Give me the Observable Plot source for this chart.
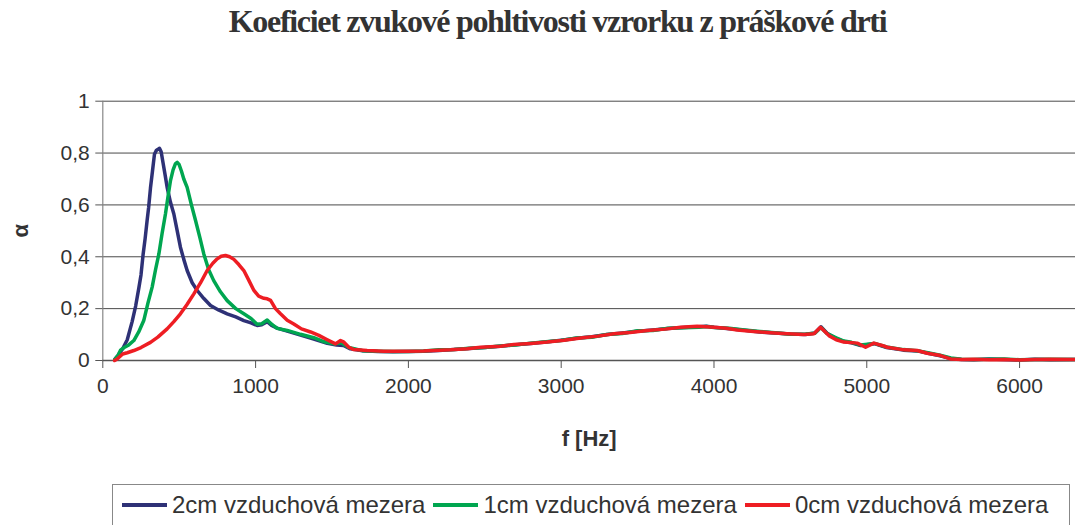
<!DOCTYPE html>
<html><head><meta charset="utf-8">
<script src="https://cdn.jsdelivr.net/npm/d3@7"></script>
<script src="https://cdn.jsdelivr.net/npm/@observablehq/plot@0.6"></script>
<style>
body{margin:0;background:#fff;width:1075px;height:525px;overflow:hidden;position:relative;font-family:"Liberation Sans",Arial,sans-serif;color:#333;}
#title{position:absolute;left:0;top:3px;width:1115px;text-align:center;font-family:"Liberation Serif","Times New Roman",serif;font-weight:bold;font-size:32px;letter-spacing:-1.3px;color:#333;white-space:nowrap;}
#chart{position:absolute;left:0;top:0;}
#legend{position:absolute;left:112px;top:484px;width:958px;height:60px;border:1px solid #888;box-sizing:border-box;display:flex;align-items:flex-start;padding-top:6px;padding-left:9px;font-size:24px;color:#333;white-space:nowrap;}
.item{display:flex;align-items:center;margin-right:8px;}
.sw{display:inline-block;width:45px;height:4px;margin-right:5px;}
g[aria-label="x-axis label"] text, g[aria-label="y-axis label"] text{font-weight:bold;font-size:22px;}
</style></head>
<body>
<div id="title">Koeficiet zvukové pohltivosti vzrorku z práškové drti</div>
<div id="chart"></div>
<div id="legend"></div>
<script>
const seriesNames = ["2cm vzduchová mezera", "1cm vzduchová mezera", "0cm vzduchová mezera"];
const seriesColors = ["#2e3176", "#00a650", "#ee1d23"];
const xTicks = [0, 1000, 2000, 3000, 4000, 5000, 6000];
const yTicks = [0, 0.2, 0.4, 0.6, 0.8, 1];

const freq2 = [80,100,130,160,192,215,236,250,264,277,290,300,312,325,338,350,362,371,382,395,408,421,443,465,487,508,530,552,585,618,660,705,757,814,870,923,970,1010,1040,1076,1105,1141,1207,1294,1381,1469,1530,1575,1620,1700,1800,1900,2000,2100,2200,2300,2400,2500,2600,2700,2800,2900,3000,3100,3200,3300,3400,3500,3600,3700,3800,3900,3950,4000,4100,4200,4300,4400,4500,4600,4660,4700,4740,4800,4850,4900,4960,5050,5130,5240,5330,5400,5480,5550,5620,5700,5800,5900,6000,6100,6200,6366];
const alpha2 = [0.005,0.02,0.045,0.08,0.15,0.21,0.28,0.33,0.41,0.47,0.54,0.59,0.665,0.73,0.795,0.81,0.815,0.818,0.805,0.76,0.715,0.668,0.61,0.565,0.5,0.437,0.39,0.347,0.30,0.27,0.24,0.212,0.195,0.18,0.168,0.154,0.145,0.135,0.138,0.15,0.135,0.125,0.113,0.098,0.083,0.066,0.06,0.058,0.045,0.038,0.035,0.034,0.035,0.036,0.039,0.042,0.046,0.05,0.055,0.061,0.066,0.071,0.078,0.086,0.092,0.1,0.106,0.113,0.118,0.123,0.127,0.13,0.132,0.128,0.122,0.117,0.11,0.106,0.102,0.1,0.106,0.13,0.105,0.085,0.073,0.068,0.058,0.065,0.05,0.04,0.037,0.028,0.018,0.008,0.004,0.003,0.006,0.004,0.002,0.005,0.003,0.004];

const freq1 = [80,100,116,140,170,203,235,268,295,323,345,367,388,410,430,443,460,475,487,500,515,530,552,580,607,635,661,693,726,770,814,870,923,970,1010,1040,1076,1105,1141,1207,1294,1381,1450,1512,1560,1610,1700,1800,1900,2000,2100,2200,2300,2400,2500,2600,2700,2800,2900,3000,3100,3200,3300,3400,3500,3600,3700,3800,3900,3950,4000,4100,4200,4300,4400,4500,4600,4660,4700,4740,4800,4850,4900,4960,5050,5130,5240,5330,5400,5480,5550,5620,5700,5800,5900,6000,6100,6200,6366];
const alpha1 = [0.005,0.02,0.04,0.05,0.06,0.077,0.11,0.154,0.22,0.283,0.35,0.411,0.49,0.565,0.645,0.694,0.735,0.758,0.764,0.755,0.73,0.70,0.668,0.6,0.54,0.475,0.411,0.35,0.308,0.265,0.231,0.2,0.18,0.162,0.14,0.142,0.156,0.14,0.124,0.116,0.101,0.088,0.072,0.064,0.068,0.05,0.038,0.036,0.035,0.035,0.037,0.041,0.042,0.047,0.05,0.056,0.06,0.067,0.072,0.077,0.087,0.09,0.1,0.104,0.115,0.116,0.124,0.126,0.128,0.131,0.127,0.124,0.118,0.112,0.107,0.101,0.102,0.105,0.127,0.104,0.087,0.075,0.07,0.06,0.066,0.052,0.042,0.038,0.03,0.02,0.01,0.005,0.004,0.005,0.006,0.003,0.004,0.005,0.004];

const freq0 = [77,94,130,160,203,250,312,360,421,465,508,550,596,640,683,720,749,775,803,830,858,890,923,955,989,1020,1054,1076,1098,1130,1163,1207,1250,1300,1360,1414,1469,1523,1556,1575,1610,1643,1730,1839,1992,2100,2166,2276,2385,2472,2603,2690,2800,2908,3020,3127,3240,3345,3450,3563,3680,3781,3890,3950,4000,4080,4152,4260,4370,4480,4588,4654,4697,4752,4800,4850,4937,4992,5046,5100,5134,5243,5330,5396,5483,5548,5620,5700,5800,5900,6000,6100,6200,6366];
const alpha0 = [0.0,0.006,0.025,0.03,0.0385,0.05,0.07,0.09,0.122,0.15,0.18,0.215,0.257,0.3,0.347,0.375,0.392,0.402,0.405,0.4,0.39,0.37,0.347,0.31,0.27,0.248,0.24,0.238,0.232,0.2,0.18,0.155,0.141,0.122,0.11,0.097,0.08,0.064,0.077,0.072,0.051,0.042,0.0385,0.036,0.036,0.037,0.0385,0.041,0.045,0.051,0.055,0.062,0.066,0.071,0.078,0.087,0.094,0.103,0.108,0.116,0.121,0.128,0.132,0.13,0.128,0.124,0.118,0.112,0.107,0.103,0.1,0.103,0.128,0.096,0.08,0.071,0.067,0.051,0.067,0.058,0.051,0.041,0.0385,0.028,0.019,0.006,0.004,0.005,0.003,0.004,0.002,0.004,0.005,0.004];

const freqs = [freq2, freq1, freq0];
const alphas = [alpha2, alpha1, alpha0];
const data = seriesNames.flatMap((name, s) => freqs[s].map((f, i) => ({f, a: alphas[s][i], name})));

const fmt = d => String(d).replace(".", ",");

const chart = Plot.plot({
  width: 1075, height: 470,
  marginTop: 100.7, marginBottom: 110, marginLeft: 102.3, marginRight: 0,
  x: {domain: [0, 6366]},
  y: {domain: [0, 1]},
  color: {domain: seriesNames, range: seriesColors},
  style: {fontFamily: "'Liberation Sans', Arial, sans-serif", fontSize: "21px", color: "#333", background: "transparent"},
  marks: [
    Plot.gridY(yTicks.slice(1), {stroke: "#4a4a4a", strokeOpacity: 1}),
    Plot.ruleX([0], {stroke: "#888", strokeWidth: 1.2}),
    Plot.ruleY([0], {stroke: "#555", strokeWidth: 1.5}),
    Plot.axisY(yTicks, {tickSize: 7, tickPadding: 6, tickFormat: fmt, stroke: "#555", label: "α", labelAnchor: "center", labelArrow: "none", labelOffset: 90}),
    Plot.axisX(xTicks, {tickSize: 8, tickPadding: 10, tickFormat: d => String(d), stroke: "#555", label: "f [Hz]", labelAnchor: "center", labelArrow: "none", labelOffset: 85}),
    Plot.line(data, {x: "f", y: "a", z: "name", stroke: "name", strokeWidth: 3.5, strokeLinejoin: "round"})
  ]
});
document.getElementById("chart").appendChild(chart);

const legend = document.getElementById("legend");
seriesNames.forEach((n, i) => {
  const it = document.createElement("div");
  it.className = "item";
  const sw = document.createElement("span");
  sw.className = "sw";
  sw.style.background = seriesColors[i];
  const tx = document.createElement("span");
  tx.textContent = n;
  it.appendChild(sw); it.appendChild(tx);
  legend.appendChild(it);
});
</script>
</body></html>
